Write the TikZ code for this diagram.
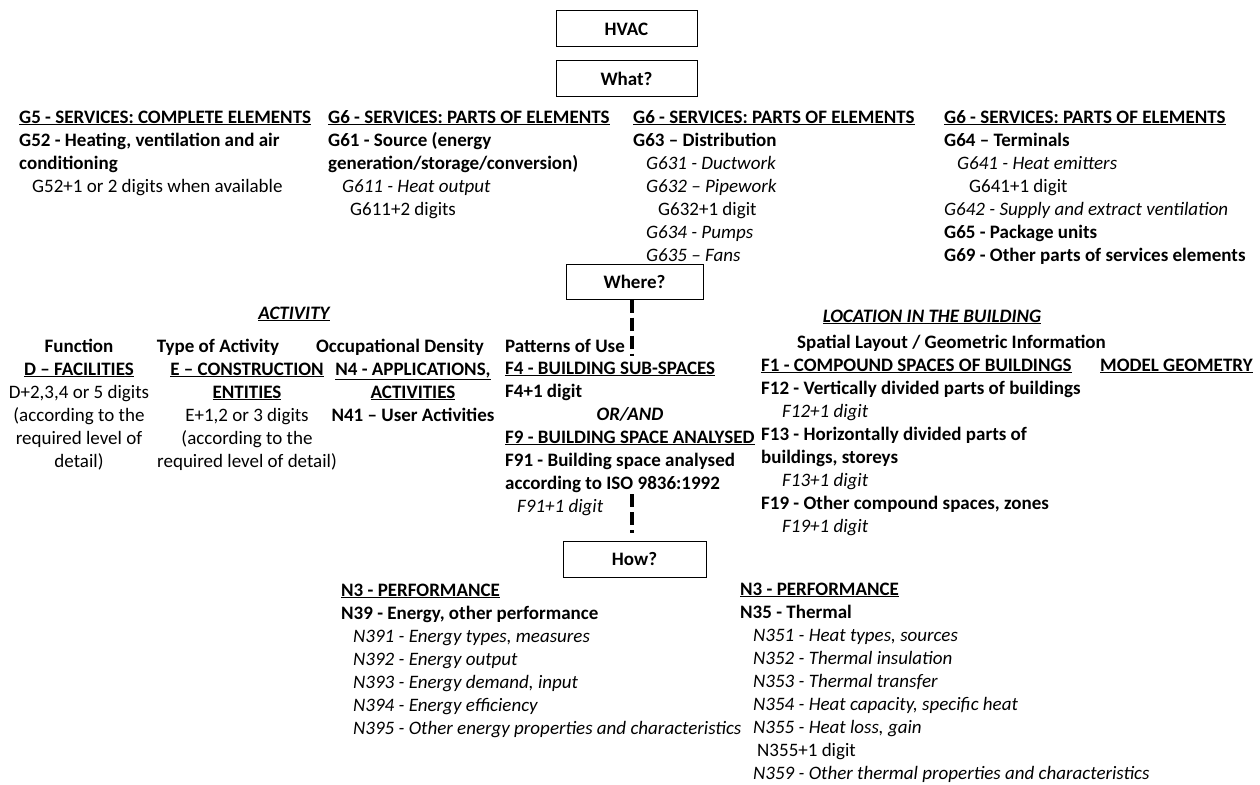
\documentclass[tikz,border=0pt]{standalone}
\usepackage{fontspec}
\setmainfont{Carlito}
\usetikzlibrary{positioning}
\newcommand{\undl}[1]{\underline{#1}}

% multi-line nodes: the base anchor is the baseline of the last line
\tikzset{
  every node/.style={inner sep=0pt, font=\fontsize{19}{23}\selectfont},
  qbox/.style={draw, line width=1pt, minimum width=141pt, minimum height=36pt, font=\fontsize{19}{23}\selectfont\bfseries},
  col/.style={align=left, anchor=base west},
  ccol/.style={align=center, anchor=base},
  link/.style={line width=4pt, dash pattern=on 13pt off 5pt}
}

\begin{document}
\begin{tikzpicture}[x=1pt,y=-1pt]
\useasboundingbox (0,0) rectangle (1260,784);

% questions
\node[qbox] (hvac) at (626.5,29) {HVAC};
\node[qbox] (what) at (626.5,78.5) {What?};
\node[qbox, minimum width=137pt, minimum height=35pt] (where) at (634.5,281.5) {Where?};
\node[qbox, minimum width=143pt] (how) at (634.5,559) {How?};

% what
\node[col] (g5) at (19,192) {\textbf{\undl{G5 - SERVICES: COMPLETE ELEMENTS}}\\
  \textbf{G52 - Heating, ventilation and air}\\
  \textbf{conditioning}\\
  \hspace*{13pt}G52+1 or 2 digits when available};
\node[col] (g61) at (328,215) {\textbf{\undl{G6 - SERVICES: PARTS OF ELEMENTS}}\\
  \textbf{G61 - Source (energy}\\
  \textbf{generation/storage/conversion)}\\
  \hspace*{14pt}\textit{G611 - Heat output}\\
  \hspace*{22pt}G611+2 digits};
\node[col] (g63) at (633,261) {\textbf{\undl{G6 - SERVICES: PARTS OF ELEMENTS}}\\
  \textbf{G63 – Distribution}\\
  \hspace*{13pt}\textit{G631 - Ductwork}\\
  \hspace*{13pt}\textit{G632 – Pipework}\\
  \hspace*{25pt}G632+1 digit\\
  \hspace*{13pt}\textit{G634 - Pumps}\\
  \hspace*{13pt}\textit{G635 – Fans}};
\node[col] (g64) at (944,261) {\textbf{\undl{G6 - SERVICES: PARTS OF ELEMENTS}}\\
  \textbf{G64 – Terminals}\\
  \hspace*{13pt}\textit{G641 - Heat emitters}\\
  \hspace*{25pt}G641+1 digit\\
  \textit{G642 - Supply and extract ventilation}\\
  \textbf{G65 - Package units}\\
  \textbf{G69 - Other parts of services elements}};

% where: activity
\node[ccol] (act) at (294,319) {\textbf{\textit{\undl{ACTIVITY}}}};
\node[ccol] (func) at (79,467) {\textbf{Function}\\
  \textbf{\undl{D – FACILITIES}}\\
  D+2,3,4 or 5 digits\\
  (according to the\\
  required level of\\
  detail)};
\node[ccol] (toa) at (218,352) {\textbf{Type of Activity}};
\node[ccol] (ent) at (247,467) {\textbf{\undl{E – CONSTRUCTION}}\\
  \textbf{\undl{ENTITIES}}\\
  E+1,2 or 3 digits\\
  (according to the\\
  required level of detail)};
\node[ccol] (occ) at (400,352) {\textbf{Occupational Density}};
\node[ccol] (appl) at (413,421) {\textbf{\undl{N4 - APPLICATIONS,}}\\
  \textbf{\undl{ACTIVITIES}}\\
  \textbf{N41 – User Activities}};

% where: spaces
\node[col] (pat) at (505,352) {\textbf{Patterns of Use}};
\node[col] (f4) at (505,397) {\textbf{\undl{F4 - BUILDING SUB-SPACES}}\\
  \textbf{F4+1 digit}};
\node[ccol] (orand) at (630,420) {\textbf{\textit{OR/AND}}};
\node[col] (f9) at (505,512) {\textbf{\undl{F9 - BUILDING SPACE ANALYSED}}\\
  \textbf{F91 - Building space analysed}\\
  \textbf{according to ISO 9836:1992}\\
  \hspace*{12pt}\textit{F91+1 digit}};

% where: location
\node[ccol] (loc) at (932,322) {\textbf{\textit{\undl{LOCATION IN THE BUILDING}}}};
\node[col] (spat) at (797,348) {\textbf{Spatial Layout / Geometric Information}};
\node[col] (f1) at (761,532) {\textbf{\undl{F1 - COMPOUND SPACES OF BUILDINGS}}\\
  \textbf{F12 - Vertically divided parts of buildings}\\
  \hspace*{21pt}\textit{F12+1 digit}\\
  \textbf{F13 - Horizontally divided parts of}\\
  \textbf{buildings, storeys}\\
  \hspace*{21pt}\textit{F13+1 digit}\\
  \textbf{F19 - Other compound spaces, zones}\\
  \hspace*{21pt}\textit{F19+1 digit}};
\node[col] (geom) at (1100,371) {\textbf{\undl{MODEL GEOMETRY}}};

% how
\node[col] (n39) at (341,734) {\textbf{\undl{N3 - PERFORMANCE}}\\
  \textbf{N39 - Energy, other performance}\\
  \hspace*{12pt}\textit{N391 - Energy types, measures}\\
  \hspace*{12pt}\textit{N392 - Energy output}\\
  \hspace*{12pt}\textit{N393 - Energy demand, input}\\
  \hspace*{12pt}\textit{N394 - Energy efficiency}\\
  \hspace*{12pt}\textit{N395 - Other energy properties and characteristics}};
\node[col] (n35) at (740,779) {\textbf{\undl{N3 - PERFORMANCE}}\\
  \textbf{N35 - Thermal}\\
  \hspace*{13pt}\textit{N351 - Heat types, sources}\\
  \hspace*{13pt}\textit{N352 - Thermal insulation}\\
  \hspace*{13pt}\textit{N353 - Thermal transfer}\\
  \hspace*{13pt}\textit{N354 - Heat capacity, specific heat}\\
  \hspace*{13pt}\textit{N355 - Heat loss, gain}\\
  \hspace*{17pt}N355+1 digit\\
  \hspace*{13pt}\textit{N359 - Other thermal properties and characteristics}};

% dashed link, hidden behind the F4/F9 text
\coordinate (gapa) at (632,356);
\coordinate (gapb) at (632,494);
\draw[link] (where.south -| gapa) -- (gapa);
\draw[link, shorten >=8pt] (gapb) -- (how.north -| gapb);

\end{tikzpicture}
\end{document}
